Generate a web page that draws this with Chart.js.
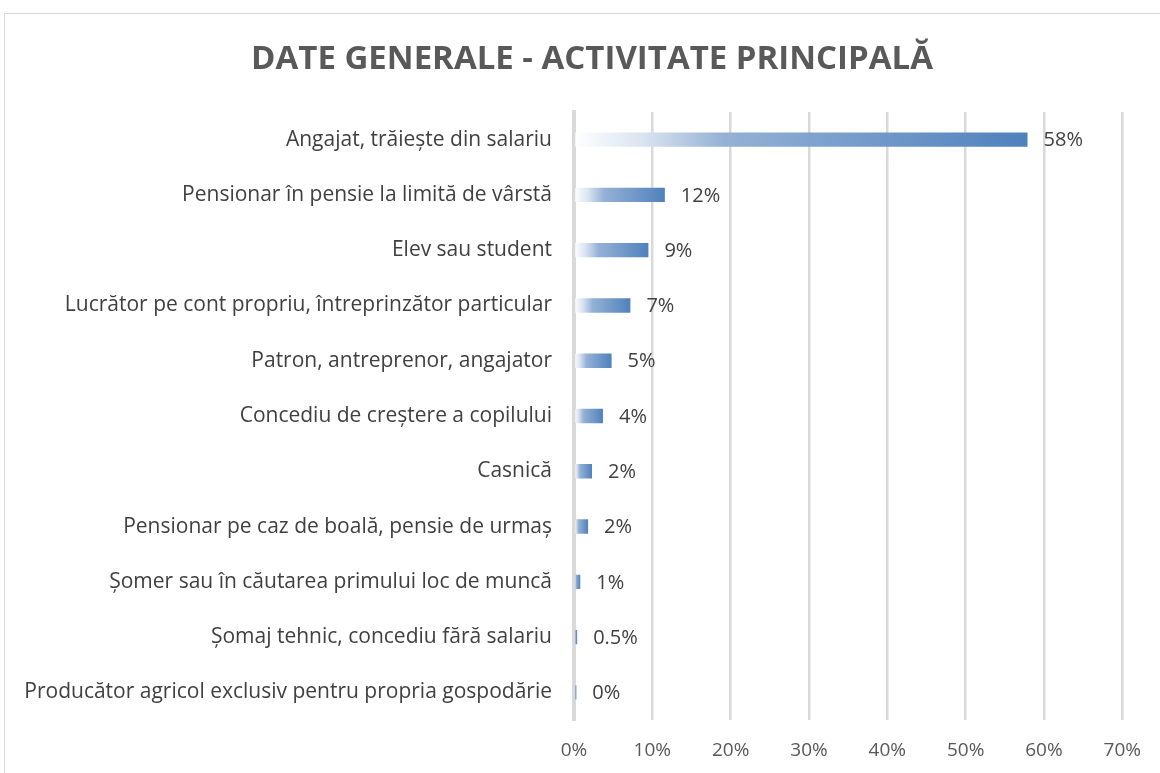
<!DOCTYPE html>
<html>
<head>
<meta charset="utf-8">
<script src="https://cdn.jsdelivr.net/npm/chart.js@4"></script>
<style>
  body { margin: 0; background: #fff; overflow: hidden; }
  #frame { position: absolute; left: 4px; top: 13px; width: 1200px; height: 800px; border: 1px solid #d9d9d9; }
  #wrap { position: absolute; left: 0; top: 0; width: 1160px; height: 773px; }
</style>
</head>
<body>
<div id="frame"></div>
<div id="wrap"><canvas id="myChart" width="1160" height="773"></canvas></div>
<script>
const chartTitle = "DATE GENERALE - ACTIVITATE PRINCIPALĂ";
const categories = [
  "Angajat, trăiește din salariu",
  "Pensionar în pensie la limită de vârstă",
  "Elev sau student",
  "Lucrător pe cont propriu, întreprinzător particular",
  "Patron, antreprenor, angajator",
  "Concediu de creștere a copilului",
  "Casnică",
  "Pensionar pe caz de boală, pensie de urmaș",
  "Șomer sau în căutarea primului loc de muncă",
  "Șomaj tehnic, concediu fără salariu",
  "Producător agricol exclusiv pentru propria gospodărie"
];
const values = [57.9, 11.6, 9.5, 7.2, 4.8, 3.7, 2.3, 1.8, 0.8, 0.4, 0.3];
const valueLabels = ["58%", "12%", "9%", "7%", "5%", "4%", "2%", "2%", "1%", "0.5%", "0%"];
const xTicks = [0, 10, 20, 30, 40, 50, 60, 70];

const textFont = "'Open Sans', 'DejaVu Sans', sans-serif";

// gradient from white at zero to blue at the end of each bar
function barGradient(c) {
  const chart = c.chart;
  if (!chart.chartArea) return "#4f81bd";
  const x = chart.scales.x;
  const x0 = x.getPixelForValue(0);
  const x1 = x.getPixelForValue(values[c.dataIndex]);
  const g = chart.ctx.createLinearGradient(x0, 0, Math.max(x1, x0 + 1), 0);
  g.addColorStop(0, "#ffffff");
  g.addColorStop(0.15, "#dbe4f1");
  g.addColorStop(0.33, "#94b1d5");
  g.addColorStop(1, "#4f81bd");
  return g;
}

const valueLabelPlugin = {
  id: "valueLabels",
  afterDatasetsDraw(chart) {
    const ctx = chart.ctx;
    const meta = chart.getDatasetMeta(0);
    ctx.save();
    ctx.font = "20px " + textFont;
    ctx.fillStyle = "#404040";
    ctx.textAlign = "left";
    ctx.textBaseline = "middle";
    meta.data.forEach((bar, i) => {
      ctx.fillText(valueLabels[i], bar.x + 16, bar.y + 1);
    });
    ctx.restore();
  }
};

// title drawn by hand, the built-in one centres on the plot box
const titlePlugin = {
  id: "frameTitle",
  afterDraw(chart) {
    const ctx = chart.ctx;
    ctx.save();
    ctx.font = "bold 33px " + textFont;
    ctx.fillStyle = "#595959";
    ctx.textAlign = "center";
    ctx.textBaseline = "middle";
    ctx.fillText(chartTitle, (chart.width + 24) / 2, 60);
    ctx.restore();
  }
};

new Chart("myChart", {
  type: "bar",
  data: {
    labels: categories,
    datasets: [{
      data: values,
      backgroundColor: barGradient,
      borderWidth: 0,
      barPercentage: 0.26,
      categoryPercentage: 1
    }]
  },
  plugins: [valueLabelPlugin, titlePlugin],
  options: {
    indexAxis: "y",
    responsive: false,
    animation: false,
    layout: { padding: { left: 0, right: 31, top: 112, bottom: 12 } },
    plugins: {
      legend: { display: false },
      tooltip: { enabled: false },
      title: { display: false }
    },
    scales: {
      x: {
        min: 0,
        max: 70,
        afterBuildTicks(scale) { scale.ticks = xTicks.map(v => ({ value: v })); },
        afterFit(scale) { scale.height = 41; },
        grid: { color: "#d9d9d9", lineWidth: 2.5, drawTicks: false },
        border: { display: false },
        ticks: {
          color: "#595959",
          font: { family: textFont, size: 19 },
          padding: 19,
          callback: v => v + "%"
        }
      },
      y: {
        afterFit(scale) { scale.width = 574; },
        grid: { display: false, drawTicks: false },
        border: { display: true, color: "#d9d9d9", width: 4 },
        ticks: {
          color: "#404040",
          font: { family: textFont, size: 21 },
          padding: 22
        }
      }
    }
  }
});
</script>
</body>
</html>
